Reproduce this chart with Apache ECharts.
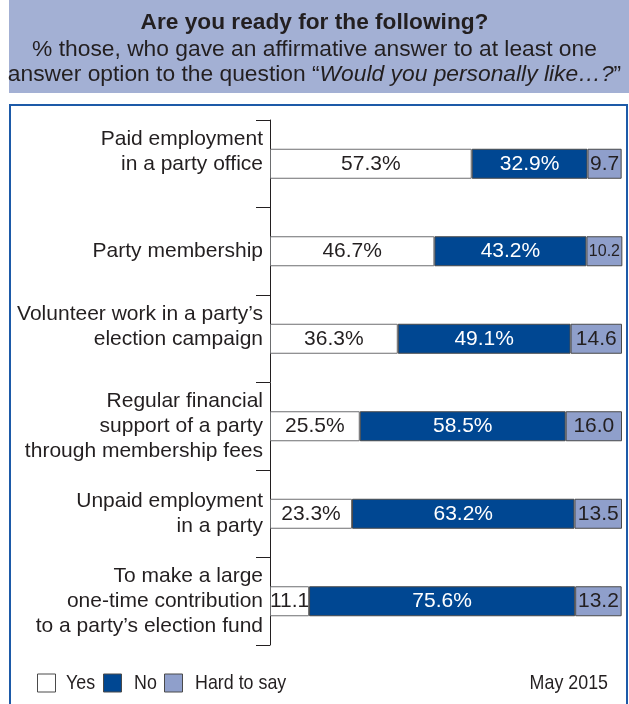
<!DOCTYPE html>
<html>
<head>
<meta charset="utf-8">
<title>Are you ready for the following?</title>
<script src="https://cdn.jsdelivr.net/npm/echarts@6/dist/echarts.min.js"></script>
<style>
  html, body { margin: 0; padding: 0; background: #fff; }
  #chart { width: 629px; height: 704px; }
</style>
</head>
<body>
<div id="chart"></div>
<script>
// Survey answers, % of respondents, May 2015
const categories = [
  'Paid employment\nin a party office',
  'Party membership',
  'Volunteer work in a party\u2019s\nelection campaign',
  'Regular financial\nsupport of a party\nthrough membership fees',
  'Unpaid employment\nin a party',
  'To make a large\none-time contribution\nto a party\u2019s election fund'
];
const yesValues  = [57.3, 46.7, 36.3, 25.5, 23.3, 11.1];
const noValues   = [32.9, 43.2, 49.1, 58.5, 63.2, 75.6];
const hardValues = [9.7, 10.2, 14.6, 16.0, 13.5, 13.2];
const seriesNames = ['Yes', 'No', 'Hard to say'];
const periodLabel = 'May 2015';

const FONT = '"Liberation Sans", Arial, Helvetica, sans-serif';
const INK = '#231f20';
const COLORS = { yes: '#ffffff', no: '#004792', hard: '#8f9fcb' };

// rows whose label sits with its last line level with the bar
const raisedLabelRows = [0, 2];

const chart = echarts.init(document.getElementById('chart'), null, { renderer: 'canvas' });

function labelFor(showPercent, color) {
  return {
    show: true,
    position: 'inside',
    fontFamily: FONT,
    fontSize: 21,
    color: color,
    formatter: p => {
      const v = p.value.toFixed(1);
      return showPercent(p.value) ? v + '%' : v;
    }
  };
}

// narrow segments with four-character values get a smaller label
function shrinkData(values) {
  return values.map(v => {
    const txt = v.toFixed(1);
    if (v < 11 && txt.length > 3) {
      return { value: v, label: { fontSize: 16 } };
    }
    return v;
  });
}

const barCommon = {
  type: 'bar',
  stack: 'total',
  barWidth: 30,
  emphasis: { disabled: true }
};

// condensed legend text, squeezed horizontally
const NARROW = 0.85;
function legendText(x, text, align) {
  return {
    type: 'text', x: x, y: 683, scaleX: NARROW,
    style: { text: text, fontFamily: FONT, fontSize: 21, fill: INK, align: align || 'left', verticalAlign: 'middle' },
    silent: true
  };
}
function legendBox(x, fill) {
  return {
    type: 'rect', shape: { x: x, y: 674, width: 18, height: 18 },
    style: { fill: fill, stroke: '#4a4a4a', lineWidth: 1 }, silent: true
  };
}

chart.setOption({
  animation: false,
  graphic: [
    { type: 'rect', shape: { x: 9, y: 0, width: 620, height: 93 }, style: { fill: '#a3b0d4' }, silent: true, z: -10 },
    { type: 'rect', shape: { x: 10, y: 105, width: 617, height: 620 }, style: { fill: 'none', stroke: '#1d5aa8', lineWidth: 2 }, silent: true, z: -10 },
    legendBox(37.5, COLORS.yes),
    legendText(66, seriesNames[0]),
    legendBox(103.5, COLORS.no),
    legendText(134, seriesNames[1]),
    legendBox(164.5, COLORS.hard),
    legendText(195, seriesNames[2]),
    legendText(608, periodLabel, 'right')
  ],
  title: {
    left: 'center',
    top: 6,
    text: 'Are you ready for the following?',
    subtext: '% those, who gave an affirmative answer to at least one\nanswer option to the question \u201C{i|Would you personally like\u2026?}\u201D',
    itemGap: 3,
    textStyle: { fontFamily: FONT, fontSize: 22.7, fontWeight: 'bold', color: INK },
    subtextStyle: {
      fontFamily: FONT, fontSize: 22.8, color: INK, lineHeight: 25, align: 'center',
      rich: { i: { fontStyle: 'italic', fontFamily: FONT, fontSize: 22.8, color: INK, lineHeight: 25 } }
    }
  },
  grid: { left: 270, right: 7, top: 120, bottom: 59, containLabel: false },
  xAxis: {
    type: 'value', min: 0, max: 100, show: false
  },
  yAxis: {
    type: 'category',
    data: categories,
    inverse: true,
    axisLine: { show: true, lineStyle: { color: INK, width: 1 } },
    axisTick: { show: true, length: 14, lineStyle: { color: INK } },
    axisLabel: {
      margin: 7,
      fontFamily: FONT, fontSize: 21, color: INK, lineHeight: 25, align: 'right',
      formatter: (value, index) => raisedLabelRows.includes(index) ? value + '\n ' : value
    }
  },
  series: [
    Object.assign({}, barCommon, {
      name: seriesNames[0],
      data: shrinkData(yesValues),
      itemStyle: { color: COLORS.yes, borderColor: '#6d6e70', borderWidth: 1 },
      label: labelFor(v => v >= 15, INK)
    }),
    Object.assign({}, barCommon, {
      name: seriesNames[1],
      data: noValues,
      itemStyle: { color: COLORS.no, borderColor: '#4a4a4a', borderWidth: 1 },
      label: labelFor(() => true, '#ffffff')
    }),
    Object.assign({}, barCommon, {
      name: seriesNames[2],
      data: shrinkData(hardValues),
      itemStyle: { color: COLORS.hard, borderColor: '#4a4a4a', borderWidth: 1 },
      label: labelFor(() => false, INK)
    })
  ]
});
</script>
</body>
</html>
